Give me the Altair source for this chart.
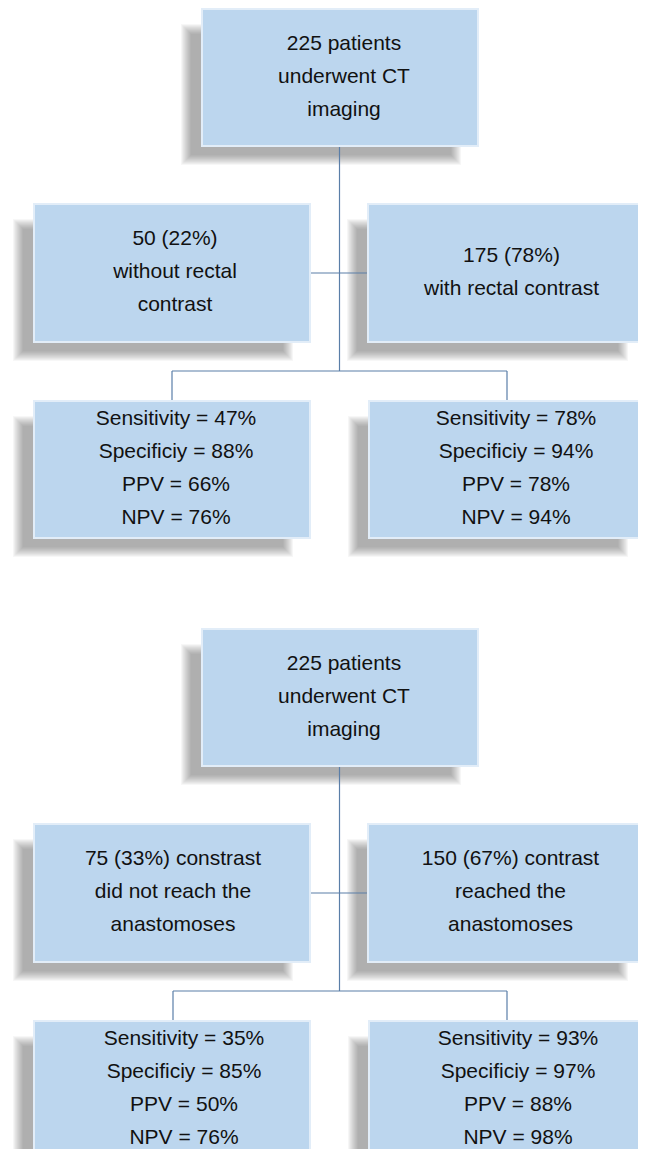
import altair as alt
import pandas as pd

# ---- text content (data) ----
top_text = ["225 patients", "underwent CT", "imaging"]
d1_midL = ["50 (22%)", "without rectal", "contrast"]
d1_midR = ["175 (78%)", "with rectal contrast"]
d1_botL = ["Sensitivity = 47%", "Specificiy = 88%", "PPV = 66%", "NPV = 76%"]
d1_botR = ["Sensitivity = 78%", "Specificiy = 94%", "PPV = 78%", "NPV = 94%"]
d2_midL = ["75 (33%) constrast", "did not reach the", "anastomoses"]
d2_midR = ["150 (67%) contrast", "reached the", "anastomoses"]
d2_botL = ["Sensitivity = 35%", "Specificiy = 85%", "PPV = 50%", "NPV = 76%"]
d2_botR = ["Sensitivity = 93%", "Specificiy = 97%", "PPV = 88%", "NPV = 98%"]

# ---- layout (pixel coordinates of the reference page) ----
W, H = 630, 1141
OFF = 8
BOX = {
    "top": (202, 478, 9, 146),
    "midL": (34, 310, 204, 342),
    "midR": (368, 645, 204, 342),
    "botL": (34, 310, 401, 538),
    "botR": (369, 645, 401, 538),
}
diagrams = [
    (0, {"top": (top_text, 4), "midL": (d1_midL, 3), "midR": (d1_midR, 5),
         "botL": (d1_botL, 4), "botR": (d1_botR, 9)}, 172),
    (620, {"top": (top_text, 4), "midL": (d2_midL, 1), "midR": (d2_midR, 4),
           "botL": (d2_botL, 12), "botR": (d2_botR, 11)}, 173),
]
LINE = 33

boxes, shadows, texts, rules = [], [], [], []
for dy, content, lx in diagrams:
    for key, (x1, x2, y1, y2) in BOX.items():
        boxes.append(dict(x=x1, x2=x2, y=y1 + dy, y2=y2 + dy))
        for k in range(12):
            ins = k * 0.9 - 2
            shadows.append(dict(x=x1 - 19 + ins, x2=x2 - 19 - ins,
                                y=y1 + dy + 17 + ins, y2=y2 + dy + 17 - ins))
        lines, dx = content[key]
        cx = (x1 + x2) / 2 + dx
        cy = (y1 + y2) / 2 + dy - 1
        n = len(lines)
        for i, t in enumerate(lines):
            texts.append(dict(x=cx, y=cy + (i - (n - 1) / 2) * LINE, text=t))
    rules += [
        dict(x=339.5, x2=339.5, y=146 + dy, y2=371 + dy),
        dict(x=310, x2=368, y=273 + dy, y2=273 + dy),
        dict(x=lx, x2=507, y=371 + dy, y2=371 + dy),
        dict(x=lx, x2=lx, y=371 + dy, y2=401 + dy),
        dict(x=507, x2=507, y=371 + dy, y2=401 + dy),
    ]

xs = alt.Scale(domain=[OFF, OFF + W])
ys = alt.Scale(domain=[OFF, OFF + H], reverse=True)
X = lambda f: alt.X(f, type="quantitative", scale=xs, axis=None)
Y = lambda f: alt.Y(f, type="quantitative", scale=ys, axis=None)

shadow = alt.Chart(pd.DataFrame(shadows)).mark_rect(
    color="#3a3a3a", opacity=0.042
).encode(x=X("x"), x2="x2", y=Y("y"), y2="y2")

box = alt.Chart(pd.DataFrame(boxes)).mark_rect(
    fill="#bcd6ee", stroke="#e2edf8", strokeWidth=2
).encode(x=X("x"), x2="x2", y=Y("y"), y2="y2")

rule = alt.Chart(pd.DataFrame(rules)).mark_rule(
    color="#5a7ea8", strokeWidth=1.2
).encode(x=X("x"), x2="x2", y=Y("y"), y2="y2")

text = alt.Chart(pd.DataFrame(texts)).mark_text(
    font="Liberation Sans", fontSize=21, color="#111111",
    align="center", baseline="middle"
).encode(x=X("x"), y=Y("y"), text="text:N")

chart = alt.layer(shadow, rule, box, text).properties(
    width=W, height=H, padding=0, autosize=alt.AutoSizeParams(type="none")
).configure_view(stroke=None)

chart.save("out.html", embed_options={"renderer": "svg", "actions": False})
